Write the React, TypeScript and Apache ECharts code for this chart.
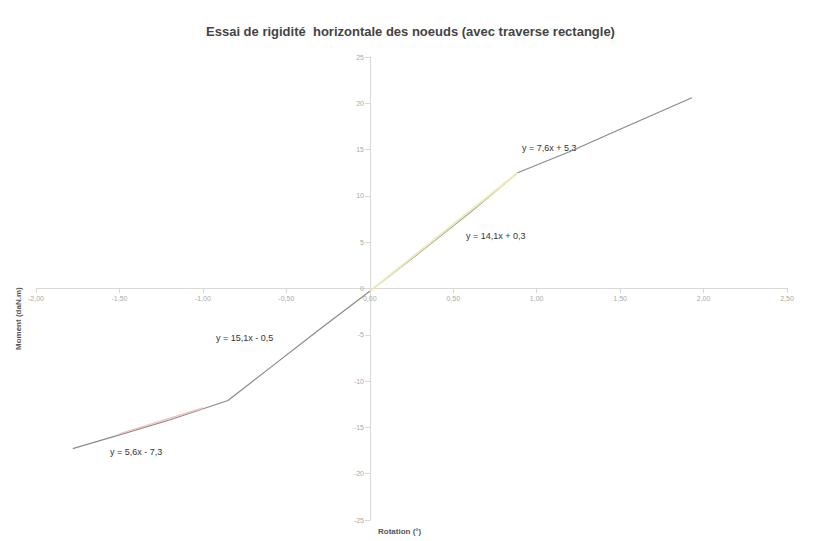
import React, { useEffect, useRef } from "react";
import * as echarts from "echarts";

const title = "Essai de rigidité  horizontale des noeuds (avec traverse rectangle)";
const xAxisName = "Rotation (°)";
const yAxisName = "Moment (daN.m)";

const rotation = [-1.78, -1.5, -1.2, -0.85, -0.6, -0.3, 0.0, 0.3, 0.6, 0.886, 1.2, 1.5, 1.93];
const moment = [-17.3, -15.8, -14.2, -12.1, -8.6, -4.4, -0.3, 3.9, 8.2, 12.5, 14.8, 17.2, 20.6];

const trendLow = [[-1.5, -15.7], [-1.0, -12.9]];
const trendMidPos = [[0.0, -0.3], [0.886, 12.5]];

const equations = ["y = 7,6x + 5,3", "y = 14,1x + 0,3", "y = 15,1x - 0,5", "y = 5,6x - 7,3"];

const fmt = (v: number) => v.toFixed(2).replace(".", ",");

export default function App() {
  const ref = useRef<HTMLDivElement>(null);
  useEffect(() => {
    document.body.style.margin = "0";
    const chart = echarts.init(ref.current!, undefined, { renderer: "svg" });
    const eqPos = [
      [522, 143],
      [466, 231],
      [216, 333],
      [110, 447],
    ];
    chart.setOption({
      animation: false,
      backgroundColor: "#ffffff",
      title: {
        text: title,
        left: "center",
        top: 20,
        textStyle: { fontSize: 13, fontWeight: "bold", color: "#444", fontFamily: "Liberation Sans" },
      },
      grid: { left: 36, right: 34, top: 57, bottom: 21 },
      xAxis: {
        type: "value",
        min: -2,
        max: 2.5,
        interval: 0.5,
        position: "bottom",
        offset: -232,
        axisLine: { onZero: false, lineStyle: { color: "#d8d8d8" } },
        axisTick: { show: true, lineStyle: { color: "#d8d8d8" } },
        splitLine: { show: false },
        axisLabel: { formatter: fmt, fontSize: 7, color: "#aaa", fontFamily: "Liberation Sans", margin: 7 },
      },
      yAxis: {
        type: "value",
        min: -25,
        max: 25,
        interval: 5,
        position: "left",
        offset: -334,
        axisLine: { onZero: false, lineStyle: { color: "#d8d8d8" } },
        axisTick: { show: true, lineStyle: { color: "#d8d8d8" } },
        splitLine: { show: false },
        axisLabel: { fontSize: 7, color: "#aaa", fontFamily: "Liberation Sans", margin: 6 },
      },
      series: [
        {
          type: "line",
          data: rotation.map((x, i) => [x, moment[i]]),
          showSymbol: false,
          lineStyle: { color: "#8a8a8a", width: 1.2 },
          z: 3,
        },
        { type: "line", data: trendLow, showSymbol: false, lineStyle: { color: "#f2c0c0", width: 1.5 }, z: 4 },
        { type: "line", data: trendMidPos, showSymbol: false, lineStyle: { color: "#eeebb8", width: 2 }, z: 4 },
      ],
      graphic: [
        ...equations.map((t, i) => ({
          type: "text",
          x: eqPos[i][0],
          y: eqPos[i][1],
          style: { text: t, fontSize: 9, fill: "#333", fontFamily: "Liberation Sans" },
        })),
        {
          type: "text",
          x: 378,
          y: 527,
          style: { text: xAxisName, fontSize: 8, fontWeight: "bold", fill: "#555", fontFamily: "Liberation Sans" },
        },
        {
          type: "text",
          x: 14,
          y: 350,
          rotation: Math.PI / 2,
          style: { text: yAxisName, fontSize: 8, fontWeight: "bold", fill: "#555", fontFamily: "Liberation Sans" },
        },
      ],
    });
    return () => chart.dispose();
  }, []);
  return <div ref={ref} style={{ width: 821, height: 541 }} />;
}
